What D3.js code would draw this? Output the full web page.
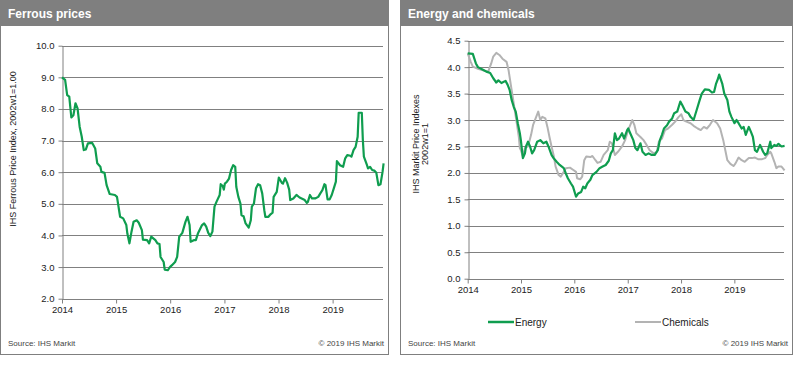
<!DOCTYPE html>
<html><head><meta charset="utf-8">
<script src="https://cdn.jsdelivr.net/npm/d3@7"></script>
<style>
html,body{margin:0;padding:0;background:#fff;}
svg{display:block;font-family:"Liberation Sans",Arial,sans-serif;}
</style></head>
<body>
<svg id="c" width="799" height="367"></svg>
<script>
// Weeks since first week of 2014 and index values
const ferrousWeeks = [0,3,5,7,9,11,13,15,17,19,21,23,25,29,32,34,37,38,41,43,46,51,53,56,59,62,63,65,67,69,72,74,77,78,82,84,86,90,92,94,95,98,99,102,104,106,109,111,113,116,119,121,123,124,127,129,131,135,137,139,141,143,145,147,149,152,153,155,156,157,159,161,163,165,167,168,170,172,173,175,177,180,182,183,185,187,189,191,193,195,196,199,201,203,204,207,209,212,213,215,217,219,220,223,226,229,231,234,236,237,239,241,244,247,249,251,253,254,256,258,260,262,264,265,268,271,273,275,278,279,281,283,285,286,289,290,291,294,295,297,299,301,303,305,307,309,310];
const ferrousValues = [9.00,8.92,8.44,8.39,7.73,7.80,8.18,8.02,7.44,7.13,6.70,6.72,6.91,6.93,6.75,6.28,6.17,6.01,5.98,5.59,5.31,5.28,5.22,4.59,4.54,4.33,4.06,3.75,4.12,4.43,4.48,4.40,4.17,3.87,3.85,3.75,3.96,3.85,3.75,3.73,3.32,3.16,2.92,2.90,3.00,3.06,3.16,3.32,3.96,4.08,4.43,4.59,4.33,3.80,3.85,3.85,4.06,4.33,4.38,4.28,4.08,3.98,4.12,4.91,5.07,5.28,5.62,5.56,5.45,5.64,5.70,5.80,6.07,6.22,6.17,5.54,5.22,5.01,4.64,4.61,4.38,4.25,4.48,4.91,5.01,5.49,5.62,5.59,5.33,4.80,4.59,4.59,4.67,4.72,5.22,5.38,5.83,5.66,5.64,5.81,5.67,5.45,5.12,5.17,5.28,5.20,5.17,5.12,5.03,5.06,5.28,5.17,5.17,5.22,5.33,5.43,5.62,5.59,5.14,5.14,5.28,5.49,5.70,6.35,6.22,6.17,6.44,6.54,6.52,6.49,6.70,6.80,7.12,7.88,7.88,7.02,6.49,6.22,6.12,6.17,6.07,6.05,5.98,5.59,5.62,6.01,6.28];

const energyWeeks = [0,5,8,10,14,19,22,25,28,30,33,37,39,41,43,45,47,49,51,52,54,56,57,59,61,63,65,68,71,74,77,79,82,84,87,90,94,96,98,101,103,106,108,111,113,115,117,120,122,126,129,132,135,138,140,142,144,146,148,151,153,156,157,159,162,164,166,169,171,174,177,180,183,186,188,190,192,195,197,200,202,205,208,210,213,216,218,221,224,227,229,232,236,239,241,243,245,246,249,251,254,256,258,261,263,265,268,270,272,275,277,279,281,283,286,289,291,293,296,297,300,302,304,307,310];
const energyValues = [4.26,4.25,4.07,4.00,3.96,3.91,3.89,3.79,3.71,3.75,3.70,3.74,3.67,3.57,3.38,3.25,3.16,2.94,2.75,2.62,2.28,2.37,2.50,2.59,2.50,2.37,2.43,2.59,2.62,2.56,2.59,2.50,2.34,2.28,2.21,2.15,2.09,1.99,1.90,1.80,1.74,1.55,1.61,1.64,1.74,1.71,1.80,1.87,1.96,2.02,2.09,2.12,2.15,2.23,2.37,2.43,2.75,2.62,2.65,2.75,2.65,2.81,2.84,2.75,2.62,2.47,2.43,2.56,2.40,2.34,2.37,2.34,2.34,2.43,2.62,2.72,2.84,2.90,2.97,3.03,3.13,3.16,3.35,3.28,3.16,3.13,3.06,3.00,3.19,3.38,3.50,3.58,3.57,3.52,3.53,3.69,3.79,3.86,3.69,3.50,3.38,3.16,3.06,2.94,3.00,2.94,2.84,2.87,2.72,2.87,2.78,2.68,2.43,2.40,2.53,2.40,2.34,2.37,2.59,2.47,2.53,2.51,2.55,2.50,2.51];

const chemWeeks = [0,3,5,10,15,20,23,25,28,31,34,38,40,42,44,46,48,50,51,52,54,56,59,62,64,67,69,71,73,76,78,80,82,84,86,89,91,94,96,100,103,106,107,110,112,114,116,120,122,125,127,130,133,137,139,141,144,147,151,154,157,161,163,165,169,172,175,178,182,185,187,190,193,196,200,203,206,209,211,214,218,221,225,228,231,234,237,240,244,247,250,252,254,257,260,262,265,268,271,275,278,281,284,288,291,293,296,297,300,302,304,307,310];
const chemValues = [4.26,4.10,4.01,3.97,3.94,3.91,4.07,4.20,4.27,4.23,4.16,4.10,3.94,3.69,3.44,3.19,2.94,2.68,2.47,2.43,2.31,2.47,2.50,2.72,2.91,3.06,3.16,3.00,3.06,3.03,2.87,2.68,2.50,2.34,2.12,1.96,1.93,2.02,2.09,2.10,2.06,2.02,1.90,1.88,1.93,2.24,2.31,2.30,2.32,2.24,2.19,2.21,2.34,2.43,2.59,2.56,2.34,2.40,2.50,2.62,2.81,3.00,2.91,2.75,2.68,2.62,2.53,2.43,2.37,2.40,2.59,2.65,2.81,2.84,2.91,2.97,3.05,3.11,3.00,2.97,2.94,2.89,2.84,2.81,2.87,2.84,2.91,3.00,2.94,2.84,2.62,2.43,2.24,2.17,2.13,2.18,2.29,2.24,2.21,2.28,2.28,2.29,2.26,2.26,2.28,2.34,2.40,2.37,2.21,2.09,2.12,2.12,2.05];

const yearTicks = [2014,2015,2016,2017,2018,2019];
const ferrousTicks = [2,3,4,5,6,7,8,9,10];
const priceTicks = [0,0.5,1,1.5,2,2.5,3,3.5,4,4.5];

const start = new Date(2014,0,1);
const toDate = w => new Date(2014,0,1 + 7*w);
const endDate = new Date(2019,11,7);

const svg = d3.select("#c");
const GREEN = "#0f9d4f", GRAY = "#b3b3b3", BORDER = "#7f7f7f";

function panel(x0, w, title){
  const g = svg.append("g");
  g.append("rect").attr("x",x0+0.5).attr("y",0.5).attr("width",w).attr("height",354)
    .attr("fill","#fff").attr("stroke",BORDER).attr("stroke-width",1);
  g.append("rect").attr("x",x0).attr("y",0).attr("width",w+1).attr("height",26).attr("fill","#7f7f7f");
  g.append("text").attr("x",x0+8).attr("y",18).attr("fill","#fff").attr("font-size",12)
    .attr("font-weight","bold").text(title);
  g.append("text").attr("x",x0+8).attr("y",346).attr("font-size",8).attr("fill","#444").text("Source:  IHS Markit");
  g.append("text").attr("x",x0+w-4).attr("y",346).attr("text-anchor","end").attr("font-size",8).attr("fill","#444").text("© 2019  IHS Markit");
  return g;
}

function chart(g, left, right, top, bottom, yDomain, yTicks, fmt){
  const x = d3.scaleTime().domain([start,endDate]).range([left,right]);
  const y = d3.scaleLinear().domain(yDomain).range([bottom,top]);
  g.append("g").selectAll("line").data(yTicks.filter(t=>t!==yDomain[0])).join("line")
    .attr("x1",left).attr("x2",right).attr("y1",d=>Math.round(y(d))+0.5).attr("y2",d=>Math.round(y(d))+0.5)
    .attr("stroke","#808080").attr("stroke-width",1);
  const ya = g.append("g").attr("transform",`translate(${Math.round(left)+0.5},0)`)
    .call(d3.axisLeft(y).tickValues(yTicks).tickFormat(fmt).tickSize(4).tickPadding(4).tickSizeOuter(0));
  const xa = g.append("g").attr("transform",`translate(0,${Math.round(bottom)+0.5})`)
    .call(d3.axisBottom(x).tickValues(yearTicks.map(yv=>new Date(yv,0,1))).tickFormat(d3.timeFormat("%Y")).tickSize(4).tickPadding(3).tickSizeOuter(0));
  [ya,xa].forEach(a=>{
    a.selectAll("path,line").attr("stroke","#808080");
    a.selectAll("text").attr("font-size",9.5).attr("fill","#222").attr("font-family","Liberation Sans, Arial, sans-serif");
  });
  xa.select(".domain").attr("d",`M${left},0H${right}`);
  return {x,y};
}

// Left panel
const gl = panel(0, 388, "Ferrous prices");
const L = chart(gl, 62, 383, 45.7, 298.7, [2,10], ferrousTicks, d3.format(".1f"));
gl.append("path").datum(d3.zip(ferrousWeeks, ferrousValues))
  .attr("fill","none").attr("stroke",GREEN).attr("stroke-width",2.2).attr("stroke-linejoin","round")
  .attr("d", d3.line().x(d=>L.x(toDate(d[0]))).y(d=>L.y(d[1])));
gl.append("text").attr("transform","translate(16,149) rotate(-90)").attr("text-anchor","middle")
  .attr("font-size",9).attr("fill","#222").text("IHS Ferrous Price Index, 2002w1=1.00");

// Right panel
const gr = panel(400, 392, "Energy and chemicals");
const R = chart(gr, 467.7, 784, 40.7, 278.7, [0,4.5], priceTicks, d3.format(".1f"));
const line2 = d3.line().x(d=>R.x(toDate(d[0]))).y(d=>R.y(d[1]));
gr.append("path").datum(d3.zip(chemWeeks, chemValues))
  .attr("fill","none").attr("stroke",GRAY).attr("stroke-width",2).attr("stroke-linejoin","round").attr("d", line2);
gr.append("path").datum(d3.zip(energyWeeks, energyValues))
  .attr("fill","none").attr("stroke",GREEN).attr("stroke-width",2.2).attr("stroke-linejoin","round").attr("d", line2);
const yt = gr.append("text").attr("transform","translate(421,144) rotate(-90)").attr("text-anchor","middle")
  .attr("font-size",9).attr("fill","#222");
yt.append("tspan").attr("x",0).attr("dy","-0.25em").text("IHS Markit Price Indexes");
yt.append("tspan").attr("x",0).attr("dy","1.05em").text("2002w1=1");

// Legend
const legend = [{name:"Energy",color:GREEN,x:488},{name:"Chemicals",color:GRAY,x:635}];
const lg = gr.selectAll("g.leg").data(legend).join("g").attr("class","leg");
lg.append("line").attr("x1",d=>d.x).attr("x2",d=>d.x+26).attr("y1",322).attr("y2",322)
  .attr("stroke",d=>d.color).attr("stroke-width",d=>d.name==="Energy"?2.5:2);
lg.append("text").attr("x",d=>d.x+27).attr("y",325.5).attr("font-size",10).attr("fill","#222").text(d=>d.name);
</script>
</body></html>
